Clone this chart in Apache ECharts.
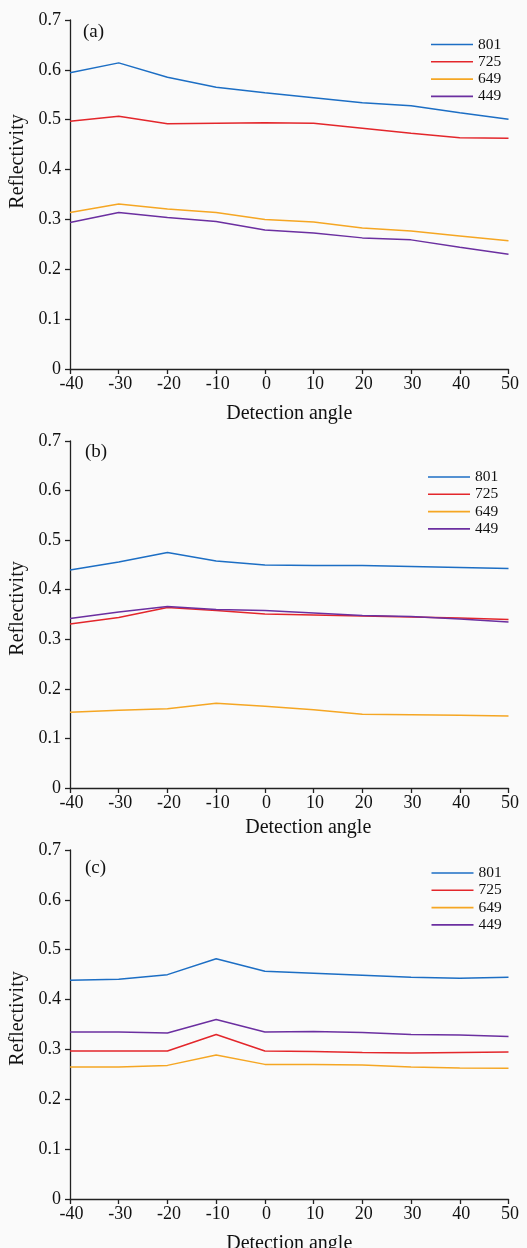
<!DOCTYPE html>
<html>
<head>
<meta charset="utf-8">
<script src="https://cdn.jsdelivr.net/npm/echarts@6/dist/echarts.min.js"></script>
<style>
html,body{margin:0;padding:0;background:#fafafa;}
#chart{width:527px;height:1248px;}
</style>
</head>
<body>
<div id="chart"></div>
<script>
// Detection angles (x axis)
const angles = [-40, -30, -20, -10, 0, 10, 20, 30, 40, 50];
const seriesNames = ['801', '725', '649', '449'];
const panelLabels = ['(a)', '(b)', '(c)'];
const xAxisName = 'Detection angle';
const yAxisName = 'Reflectivity';

// Panel (a)
const a801 = [0.594, 0.614, 0.585, 0.565, 0.554, 0.544, 0.534, 0.528, 0.514, 0.501];
const a725 = [0.497, 0.507, 0.492, 0.493, 0.494, 0.493, 0.483, 0.473, 0.464, 0.463];
const a649 = [0.314, 0.331, 0.321, 0.314, 0.300, 0.295, 0.283, 0.277, 0.267, 0.257];
const a449 = [0.294, 0.314, 0.304, 0.296, 0.279, 0.273, 0.263, 0.259, 0.244, 0.230];
// Panel (b)
const b801 = [0.440, 0.456, 0.475, 0.458, 0.450, 0.449, 0.449, 0.447, 0.445, 0.443];
const b725 = [0.331, 0.344, 0.364, 0.358, 0.351, 0.349, 0.347, 0.345, 0.343, 0.340];
const b649 = [0.153, 0.157, 0.160, 0.171, 0.165, 0.158, 0.149, 0.148, 0.147, 0.145];
const b449 = [0.342, 0.355, 0.366, 0.360, 0.358, 0.353, 0.348, 0.346, 0.341, 0.335];
// Panel (c)
const c801 = [0.439, 0.441, 0.450, 0.482, 0.457, 0.453, 0.449, 0.445, 0.443, 0.445];
const c725 = [0.297, 0.297, 0.297, 0.330, 0.297, 0.296, 0.294, 0.293, 0.294, 0.295];
const c649 = [0.265, 0.265, 0.268, 0.289, 0.270, 0.270, 0.269, 0.265, 0.263, 0.262];
const c449 = [0.335, 0.335, 0.333, 0.360, 0.335, 0.336, 0.334, 0.330, 0.329, 0.326];

const panels = [
  [a801, a725, a649, a449],
  [b801, b725, b649, b449],
  [c801, c725, c649, c449]
];

const colors = ['#1c6ec4', '#e3262b', '#f5a623', '#6b2fa0'];
const FONT = "'Liberation Serif', 'Times New Roman', serif";
const TXT = '#111';

const gridTops = [20, 441, 850];
const gridBottoms = [369, 788, 1199];
const legendTops = [36.5, 469, 865];
const legendLefts = [431, 428, 431.5];
const titleTops = [22.5, 443, 858.5];
const titleLefts = [83, 85, 85];
const yNameShift = [66, 12, 12];
const xNameShift = [0, 38, 0];
const xNameGaps = [35, 30, 35];

const H = 1248;
const grids = [], xAxes = [], yAxes = [], series = [], legends = [], titles = [];
panels.forEach((vals, p) => {
  grids.push({left: 70, right: 18.5, top: gridTops[p], bottom: H - gridBottoms[p],
    containLabel: false, outerBoundsMode: 'none'});
  xAxes.push({
    type: 'value', gridIndex: p, min: -40, max: 50, interval: 10,
    name: xAxisName, nameLocation: 'middle', nameGap: xNameGaps[p],
    nameTextStyle: {fontFamily: FONT, fontSize: 20, color: TXT, padding: [0, 0, 0, xNameShift[p]]},
    axisLine: {show: true, onZero: false, lineStyle: {color: '#222', width: 1.3}},
    axisTick: {show: true, inside: false, length: 5, lineStyle: {color: '#222', width: 1.3}},
    axisLabel: {fontFamily: FONT, fontSize: 18, color: TXT, margin: 6, padding: [0, 0, 0, 3]},
    splitLine: {show: false}
  });
  yAxes.push({
    type: 'value', gridIndex: p, min: 0, max: 0.7, interval: 0.1,
    name: yAxisName, nameLocation: 'middle', nameGap: 40,
    nameTextStyle: {fontFamily: FONT, fontSize: 20, color: TXT, padding: [0, 0, 0, yNameShift[p]]},
    axisLine: {show: true, onZero: false, lineStyle: {color: '#222', width: 1.3}},
    axisTick: {show: true, inside: false, length: 5, lineStyle: {color: '#222', width: 1.3}},
    axisLabel: {fontFamily: FONT, fontSize: 18, color: TXT, margin: 9},
    splitLine: {show: false}
  });
  vals.forEach((arr, i) => {
    series.push({
      type: 'line', name: seriesNames[i], xAxisIndex: p, yAxisIndex: p,
      data: angles.map((a, k) => [a, arr[k]]),
      showSymbol: false, symbol: 'none', smooth: false,
      lineStyle: {color: colors[i], width: 1.5},
      itemStyle: {color: colors[i]},
      silent: true, animation: false
    });
  });
  legends.push({
    orient: 'vertical', left: legendLefts[p], top: legendTops[p], padding: 0,
    icon: 'rect', itemWidth: 42, itemHeight: 1.6, itemGap: 1.3,
    data: seriesNames,
    textStyle: {fontFamily: FONT, fontSize: 15.5, color: TXT, lineHeight: 15},
    selectedMode: false
  });
  titles.push({
    text: panelLabels[p], left: titleLefts[p], top: titleTops[p], padding: 0,
    textStyle: {fontFamily: FONT, fontSize: 19, fontWeight: 'normal', color: TXT}
  });
});

const chart = echarts.init(document.getElementById('chart'), null, {renderer: 'canvas'});
chart.setOption({
  backgroundColor: '#fafafa',
  animation: false,
  title: titles,
  legend: legends,
  grid: grids,
  xAxis: xAxes,
  yAxis: yAxes,
  series: series
});
</script>
</body>
</html>
